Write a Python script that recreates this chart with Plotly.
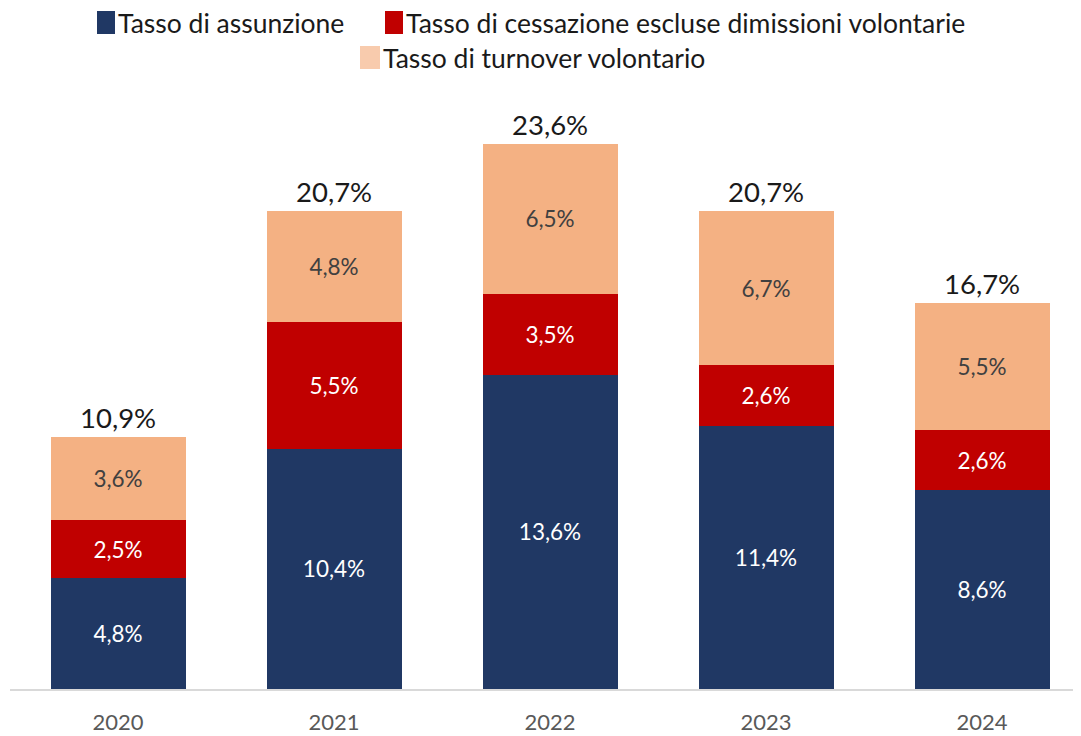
import plotly.graph_objects as go

# dati
anni = ["2020", "2021", "2022", "2023", "2024"]
assunzione = [4.8, 10.4, 13.6, 11.4, 8.6]
cessazione = [2.5, 5.5, 3.5, 2.6, 2.6]
turnover = [3.6, 4.8, 6.5, 6.7, 5.5]
totale = [10.9, 20.7, 23.6, 20.7, 16.7]

serie = ["Tasso di assunzione",
         "Tasso di cessazione escluse dimissioni volontarie",
         "Tasso di turnover volontario"]
colori = ["#203864", "#C00000", "#F4B183"]
colori_legenda = ["#203864", "#C00000", "#F8CBAD"]

font_name = "Lato"
OFF = 8  # margine del body della pagina
W, H = 1084, 736
ML, MR, MT, MB = 10 - OFF, 2, 80 - OFF, 47 + OFF
pw, ph = W - ML - MR, H - MT - MB


# coordinate pixel dello schermo -> coordinate paper
def px_x(x):
    return (x - OFF - ML) / pw


def px_y(y):
    return (H - MB - (y - OFF)) / ph


fig = go.Figure()
for nome, valori, col, txt in zip(serie, [assunzione, cessazione, turnover], colori,
                                   ["white", "white", "#404040"]):
    fig.add_trace(go.Bar(x=anni, y=valori, name=nome, marker_color=col,
                         marker_line_width=0, texttemplate="%{y:.1f}%",
                         textposition="inside", insidetextanchor="middle",
                         textfont=dict(color=txt, size=22.5), showlegend=False))

# totali sopra le colonne
for a, t in zip(anni, totale):
    fig.add_annotation(x=a, y=t, text=f"{t:.1f}%".replace(".", ","), showarrow=False,
                       yanchor="bottom", yshift=1, font=dict(size=27.5, color="#1a1a1a"))

# legenda manuale
leg = [(97, 11, 115, 34), (385, 11, 403, 34), (360, 46, 380, 69)]
for (x0, y0, x1, y1), nome, col in zip(leg, serie, colori_legenda):
    fig.add_shape(type="rect", xref="paper", yref="paper", x0=px_x(x0), x1=px_x(x1),
                  y0=px_y(y1), y1=px_y(y0), fillcolor=col, line_width=0)
    fig.add_annotation(xref="paper", yref="paper", x=px_x(x1 + 2), y=px_y((y0 + y1) / 2 + 1),
                       xanchor="left", yanchor="middle", text=nome, showarrow=False,
                       font=dict(size=26.5, color="#1a1a1a"), borderpad=0)

fig.update_xaxes(showline=True, linecolor="#d9d9d9", linewidth=1.5, ticks="",
                 tickfont=dict(size=22, color="#595959"), showgrid=False,
                 ticklabelstandoff=13)
fig.update_yaxes(visible=False, range=[0, 26.35], showgrid=False)
fig.update_layout(
    width=W, height=H,
    barmode="stack", bargap=0.375, separators=",.", template=None,
    font_family=font_name,
    plot_bgcolor="white", paper_bgcolor="white",
    margin=dict(l=ML, r=MR, t=MT, b=MB),
    uniformtext=dict(mode="show", minsize=10),
)

fig.write_html("out.html")
